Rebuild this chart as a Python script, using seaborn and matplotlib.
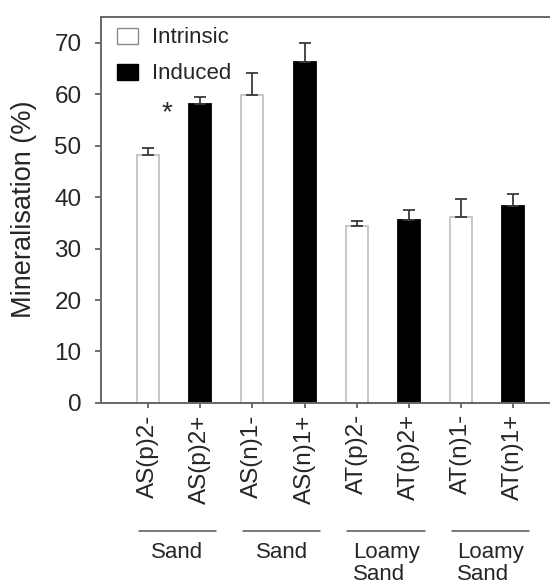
import matplotlib
matplotlib.use("Agg")
import matplotlib.pyplot as plt
import matplotlib.transforms as mtransforms
from matplotlib.patches import Patch
import pandas as pd
import seaborn as sns

# Mineralisation data (mean and standard error, %)
samples = ["AS(p)2-", "AS(p)2+", "AS(n)1-", "AS(n)1+",
           "AT(p)2-", "AT(p)2+", "AT(n)1-", "AT(n)1+"]
kinds = ["Intrinsic", "Induced", "Intrinsic", "Induced",
         "Intrinsic", "Induced", "Intrinsic", "Induced"]
means = [48.2, 58.1, 59.9, 66.3, 34.3, 35.6, 36.1, 38.2]
errors = [1.3, 1.3, 4.3, 3.6, 1.0, 1.8, 3.6, 2.4]
groups = ["Sand", "Sand", "Loamy\nSand", "Loamy\nSand"]

df = pd.DataFrame({"sample": samples, "kind": kinds, "mean": means, "err": errors})

sns.set_style("white")
plt.rcParams["font.family"] = ["Liberation Sans", "DejaVu Sans"]

fig = plt.figure(figsize=(5.5, 5.84), dpi=100)
ax = fig.add_axes([0.1836, 0.31, 0.8164, 0.661])

sns.barplot(data=df, x="sample", y="mean", hue="kind",
            palette={"Intrinsic": "white", "Induced": "black"},
            dodge=False, width=0.42, errorbar=None, legend=False, ax=ax)

for patch in ax.patches:
    fc = patch.get_facecolor()
    if fc[0] > 0.5:
        patch.set_edgecolor("#c4c4c4")
    else:
        patch.set_edgecolor("black")
    patch.set_linewidth(1.3)

# upper-only error bars
xs = list(range(len(samples)))
ax.errorbar(xs, df["mean"], yerr=[[0] * len(samples), df["err"]], fmt="none",
            ecolor="#3a3a3a", elinewidth=1.3, capsize=4, capthick=1.3, zorder=3)

ax.set_xlim(-0.9, 7.7)
ax.set_ylim(0, 75)
ax.set_yticks(range(0, 71, 10))
ax.set_ylabel("Mineralisation (%)", fontsize=19.5)
ax.yaxis.set_label_coords(-0.143, 0.503)
ax.set_xlabel("")
ax.tick_params(axis="y", labelsize=17.5, length=4.5, width=1.2, color="#555555",
               direction="out", left=True, pad=9.5)
ax.tick_params(axis="x", labelsize=17.5, length=3.6, width=1.2, color="#555555",
               direction="out", bottom=True, pad=4.5)
plt.setp(ax.get_xticklabels(), rotation=90)

for side in ["left", "bottom", "top"]:
    ax.spines[side].set_color("#666666")
    ax.spines[side].set_linewidth(1.4)
ax.spines["right"].set_visible(False)

# significance marker
ax.text(0.36, 56.3, "*", fontsize=20, ha="center", va="center")

# legend
handles = [Patch(facecolor="white", edgecolor="#8a8a8a", linewidth=1.0, label="Intrinsic"),
           Patch(facecolor="black", edgecolor="black", label="Induced")]
ax.legend(handles=handles, loc="upper left", bbox_to_anchor=(0.0356, 0.973),
          frameon=False, fontsize=16, handlelength=0.95, handleheight=0.72,
          handletextpad=0.63, labelspacing=0.68, borderaxespad=0, borderpad=0)

# soil texture groups under pairs of samples
trans = mtransforms.blended_transform_factory(ax.transData, ax.transAxes)
for i, g in enumerate(groups):
    x0, x1 = 2 * i - 0.18, 2 * i + 1 + 0.3
    ax.plot([x0, x1], [-0.332, -0.332], transform=trans, color="#555555",
            lw=1.1, clip_on=False)
    ax.text((x0 + x1) / 2, -0.36, g, transform=trans, ha="center", va="top",
            fontsize=16, multialignment="left", linespacing=1.08)

fig.savefig("out.png", dpi=100)
